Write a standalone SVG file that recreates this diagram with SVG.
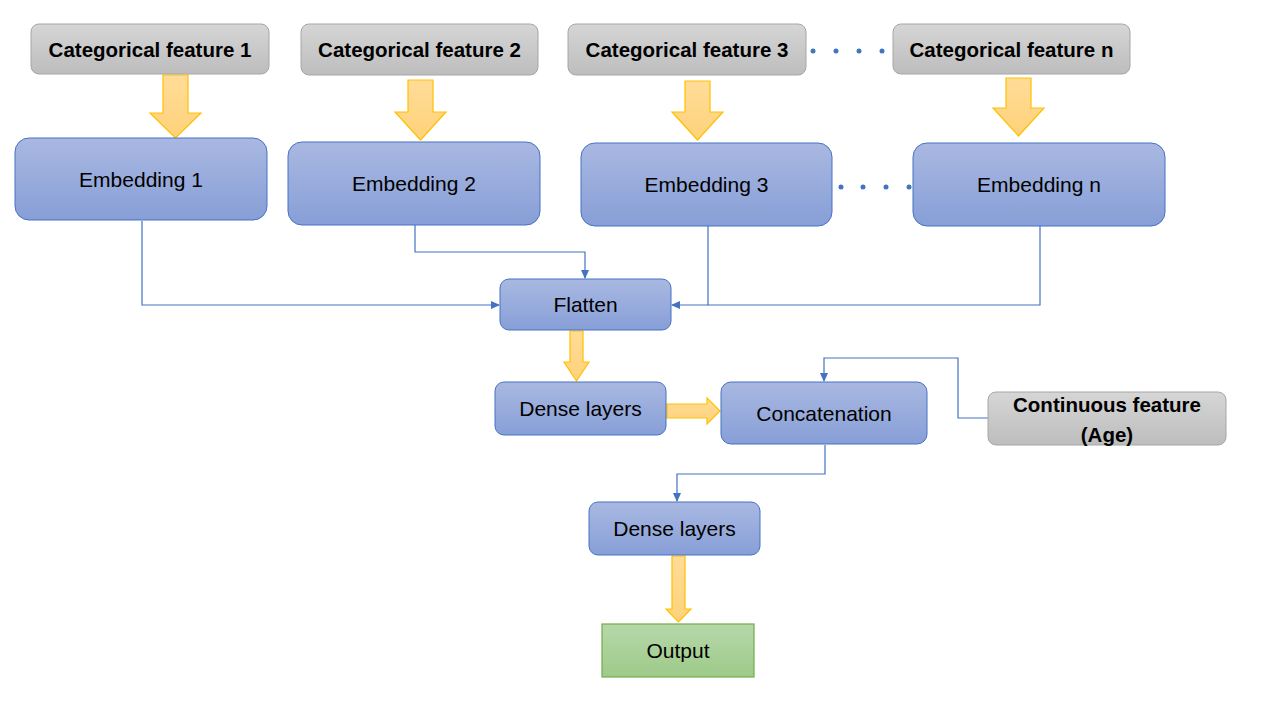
<svg xmlns="http://www.w3.org/2000/svg" width="1280" height="720" viewBox="0 0 1280 720">
<defs>
<linearGradient id="gBlue" x1="0" y1="0" x2="0" y2="1"><stop offset="0" stop-color="#a9b8e1"/><stop offset="1" stop-color="#879fd7"/></linearGradient>
<linearGradient id="gGray" x1="0" y1="0" x2="0" y2="1"><stop offset="0" stop-color="#d6d6d6"/><stop offset="1" stop-color="#bdbdbd"/></linearGradient>
<linearGradient id="gGreen" x1="0" y1="0" x2="0" y2="1"><stop offset="0" stop-color="#b7d8aa"/><stop offset="1" stop-color="#9dca89"/></linearGradient>
<linearGradient id="gYel" x1="0" y1="0" x2="0" y2="1"><stop offset="0" stop-color="#ffdc98"/><stop offset="1" stop-color="#ffd27a"/></linearGradient>
<marker id="ah" markerWidth="10" markerHeight="10" refX="8" refY="5" orient="auto" markerUnits="userSpaceOnUse"><path d="M0,1 L9,5 L0,9 Z" fill="#4472c4"/></marker>
</defs>
<style>
.blue{fill:url(#gBlue);stroke:#4472c4;stroke-width:1}
.gray{fill:url(#gGray);stroke:#a6a6a6;stroke-width:1}
.green{fill:url(#gGreen);stroke:#70ad47;stroke-width:1.2}
.yarr{fill:url(#gYel);stroke:#ffc000;stroke-width:1.2;stroke-linejoin:miter}
.conn{fill:none;stroke:#4472c4;stroke-width:1.2;marker-end:url(#ah)}
.lineonly{fill:none;stroke:#4472c4;stroke-width:1.2}
.t{font-family:"Liberation Sans",Arial,sans-serif;font-size:21px;fill:#000;text-anchor:middle}
.tb{font-family:"Liberation Sans",Arial,sans-serif;font-size:20.5px;font-weight:bold;fill:#000;text-anchor:middle}
.dot{fill:#4472c4}
</style>
<rect width="1280" height="720" fill="#fff"/>

<g id="connectors">
<path class="conn" d="M142,221 V305 H499"/>
<path class="conn" d="M415,225 V252 H585 V278"/>
<path class="conn" d="M708,226 V305 H672"/>
<path class="lineonly" d="M1040,226 V305 H708"/>
<path class="conn" d="M988,418 H958 V358 H824 V381"/>
<path class="conn" d="M825,445 V474 H677 V501"/>
</g>

<g id="arrows">
<path class="yarr" d="M163,75 H188 V113 H201 L175.5,138 L150,113 H163 Z"/>
<path class="yarr" d="M408,80 H433 V112 H446 L420.5,140 L395,112 H408 Z"/>
<path class="yarr" d="M685,81 H710 V112 H723 L697.5,140 L672,112 H685 Z"/>
<path class="yarr" d="M1006,78 H1031 V108 H1044 L1018.5,136 L993,108 H1006 Z"/>
<path class="yarr" d="M570,331 H583 V362 H589 L576.5,381 L564,362 H570 Z"/>
<path class="yarr" d="M667,404 H707 V398 L720,411 L707,424 V418 H667 Z"/>
<path class="yarr" d="M672,556 H685 V609 H691 L678.5,622 L666,609 H672 Z"/>
</g>

<g id="dots">
<circle class="dot" cx="813" cy="51" r="2.5"/>
<circle class="dot" cx="836" cy="51" r="2.5"/>
<circle class="dot" cx="859" cy="51" r="2.5"/>
<circle class="dot" cx="882" cy="51" r="2.5"/>
<circle class="dot" cx="841" cy="187" r="2.5"/>
<circle class="dot" cx="863" cy="187" r="2.5"/>
<circle class="dot" cx="886" cy="187" r="2.5"/>
<circle class="dot" cx="909" cy="187" r="2.5"/>
</g>

<g id="cat1"><rect class="gray" x="31" y="24" width="238" height="50" rx="8"/><text class="tb" x="150" y="57">Categorical feature 1</text></g>
<g id="cat2"><rect class="gray" x="301" y="24" width="237" height="51" rx="8"/><text class="tb" x="419.5" y="57">Categorical feature 2</text></g>
<g id="cat3"><rect class="gray" x="568" y="24" width="238" height="51" rx="8"/><text class="tb" x="687" y="57">Categorical feature 3</text></g>
<g id="catn"><rect class="gray" x="893" y="24" width="237" height="50" rx="8"/><text class="tb" x="1011.5" y="57">Categorical feature n</text></g>

<g id="emb1"><rect class="blue" x="15" y="138" width="252" height="82" rx="14"/><text class="t" x="141" y="187">Embedding 1</text></g>
<g id="emb2"><rect class="blue" x="288" y="142" width="252" height="83" rx="14"/><text class="t" x="414" y="191">Embedding 2</text></g>
<g id="emb3"><rect class="blue" x="581" y="143" width="251" height="83" rx="14"/><text class="t" x="706.5" y="192">Embedding 3</text></g>
<g id="embn"><rect class="blue" x="913" y="143" width="252" height="83" rx="14"/><text class="t" x="1039" y="192">Embedding n</text></g>

<g id="flatten"><rect class="blue" x="500" y="279" width="171" height="51" rx="9"/><text class="t" x="585.5" y="312">Flatten</text></g>
<g id="dense1"><rect class="blue" x="495" y="382" width="171" height="53" rx="9"/><text class="t" x="580.5" y="416">Dense layers</text></g>
<g id="concat"><rect class="blue" x="721" y="382" width="206" height="62" rx="10"/><text class="t" x="824" y="421">Concatenation</text></g>
<g id="cont"><rect class="gray" x="988" y="392" width="238" height="53" rx="8"/><text class="tb" x="1107" y="412">Continuous feature</text><text class="tb" x="1107" y="442">(Age)</text></g>
<g id="dense2"><rect class="blue" x="589" y="502" width="171" height="53" rx="9"/><text class="t" x="674.5" y="536">Dense layers</text></g>
<g id="output"><rect class="green" x="602" y="624" width="152" height="53"/><text class="t" x="678" y="658">Output</text></g>
</svg>
